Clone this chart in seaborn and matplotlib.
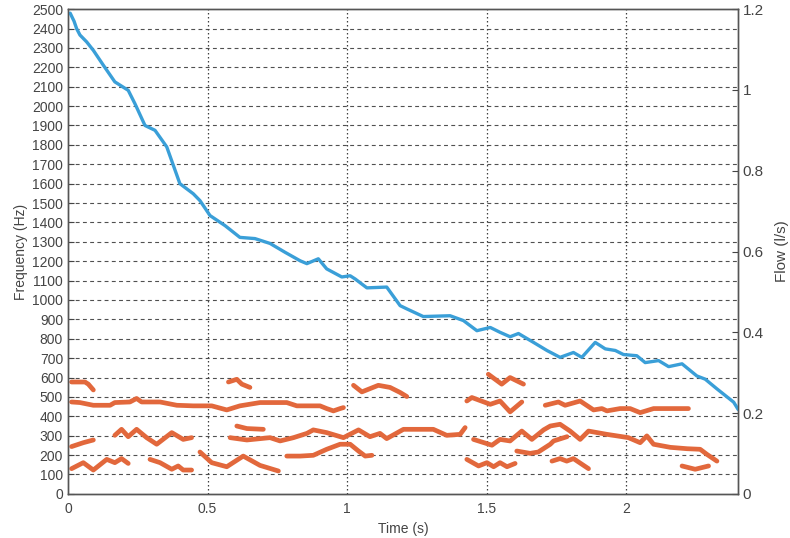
import seaborn as sns
import matplotlib.pyplot as plt
import pandas as pd

# ---- flow curve (right axis, l/s) ----
flow_time = [0.008, 0.022, 0.031, 0.043, 0.067, 0.091, 0.127, 0.168, 0.216, 0.240,
             0.276, 0.312, 0.354, 0.401, 0.449, 0.473, 0.509, 0.563, 0.616, 0.670,
             0.724, 0.778, 0.832, 0.856, 0.897, 0.927, 0.981, 1.011, 1.029, 1.071,
             1.142, 1.190, 1.214, 1.273, 1.369, 1.417, 1.465, 1.513, 1.548, 1.584,
             1.614, 1.668, 1.716, 1.763, 1.811, 1.841, 1.889, 1.925, 1.961, 1.990,
             2.038, 2.068, 2.116, 2.152, 2.200, 2.253, 2.283, 2.325, 2.385, 2.401]
flow_value = [1.190, 1.170, 1.152, 1.136, 1.119, 1.098, 1.061, 1.020, 0.999, 0.966,
              0.912, 0.900, 0.859, 0.768, 0.743, 0.726, 0.689, 0.664, 0.635, 0.632,
              0.620, 0.598, 0.577, 0.570, 0.582, 0.557, 0.537, 0.540, 0.532, 0.510,
              0.512, 0.466, 0.458, 0.439, 0.441, 0.429, 0.404, 0.412, 0.400, 0.389,
              0.397, 0.375, 0.355, 0.338, 0.350, 0.338, 0.375, 0.359, 0.355, 0.345,
              0.342, 0.325, 0.330, 0.315, 0.322, 0.292, 0.284, 0.260, 0.227, 0.209]

# ---- formant tracks (left axis, Hz): (time list, frequency list) ----
formant_tracks = {
    "A": ([0.013, 0.061, 0.073, 0.091], [577, 577, 566, 536]),
    "B": ([0.013, 0.043, 0.091, 0.151, 0.168, 0.222, 0.246, 0.264, 0.330, 0.390,
           0.449, 0.515, 0.569, 0.616, 0.688, 0.784, 0.820, 0.867, 0.903, 0.927,
           0.951, 0.975, 0.987],
          [474, 471, 457, 457, 471, 474, 492, 474, 474, 457, 454, 454, 433, 454,
           471, 471, 454, 454, 454, 440, 428, 440, 445]),
    "C": ([0.013, 0.055, 0.091], [244, 264, 278]),
    "D": ([0.168, 0.192, 0.216, 0.246, 0.282, 0.318, 0.372, 0.413, 0.443],
          [302, 333, 295, 333, 290, 256, 316, 281, 290]),
    "E": ([0.013, 0.055, 0.091, 0.139, 0.168, 0.192, 0.216],
          [130, 161, 123, 178, 161, 182, 157]),
    "F": ([0.294, 0.330, 0.372, 0.395, 0.413, 0.443], [178, 161, 127, 144, 123, 123]),
    "G": ([0.473, 0.515, 0.569, 0.628, 0.688, 0.754], [216, 161, 140, 195, 147, 118]),
    "H": ([0.575, 0.605, 0.623, 0.652], [577, 591, 566, 549]),
    "I": ([0.605, 0.641, 0.700], [350, 337, 333]),
    "J": ([0.581, 0.641, 0.724, 0.760, 0.808, 0.856, 0.879, 0.927, 0.987, 1.041,
           1.082, 1.118, 1.142, 1.202, 1.309, 1.357, 1.405, 1.423],
          [290, 278, 290, 273, 290, 312, 330, 316, 290, 330, 295, 312, 285, 333,
           333, 302, 307, 342]),
    "K": ([0.784, 0.832, 0.879, 0.927, 0.975, 1.011, 1.041, 1.065, 1.089],
          [195, 195, 199, 230, 256, 256, 221, 195, 199]),
    "L": ([1.023, 1.053, 1.112, 1.154, 1.190, 1.214], [560, 526, 560, 549, 523, 502]),
    "M": ([1.429, 1.447, 1.513, 1.548, 1.584, 1.626], [479, 497, 462, 479, 423, 474]),
    "N": ([1.506, 1.554, 1.584, 1.632], [617, 566, 600, 566]),
    "O": ([1.453, 1.519, 1.548, 1.584, 1.626, 1.662, 1.704, 1.728, 1.763, 1.799,
           1.835, 1.865, 1.931, 2.008, 2.050, 2.074, 2.098, 2.158, 2.218, 2.265,
           2.289, 2.325],
          [281, 251, 281, 273, 324, 281, 330, 350, 359, 324, 281, 324, 307, 290,
           264, 299, 256, 240, 233, 230, 204, 169]),
    "P": ([1.608, 1.656, 1.685, 1.728, 1.740, 1.788], [221, 209, 216, 256, 273, 295]),
    "Q": ([1.429, 1.471, 1.501, 1.525, 1.548, 1.573, 1.602],
          [178, 144, 161, 140, 161, 140, 157]),
    "R": ([1.710, 1.757, 1.781, 1.835, 1.883, 1.913, 1.931, 1.978, 2.014, 2.050,
           2.098, 2.223],
          [457, 474, 457, 479, 433, 440, 428, 440, 440, 419, 440, 440]),
    "S": ([1.734, 1.763, 1.787, 1.811, 1.865], [169, 182, 169, 182, 130]),
    "T": ([2.200, 2.247, 2.295], [144, 127, 144]),
}

freq_ticks = list(range(0, 2600, 100))
flow_ticks = [0, 0.2, 0.4, 0.6, 0.8, 1.0, 1.2]
time_ticks = [0, 0.5, 1, 1.5, 2]
time_labels = ["0", "0.5", "1", "1.5", "2"]
flow_labels = ["0", "0.2", "0.4", "0.6", "0.8", "1", "1.2"]

rows = []
for name, (ts, fs) in formant_tracks.items():
    for t, f in zip(ts, fs):
        rows.append({"track": name, "time": t, "freq": f})
formants = pd.DataFrame(rows)
flow = pd.DataFrame({"time": flow_time, "flow": flow_value})

sns.set_style("white")
plt.rcParams["font.family"] = ["Liberation Sans Narrow", "Liberation Sans", "DejaVu Sans"]

txt = "#444444"
fig = plt.figure(figsize=(7.9, 5.38), dpi=100)
ax = fig.add_axes([0.086, 0.082, 0.848, 0.901])

# grid
for f in freq_ticks[1:-1]:
    ax.axhline(f, color="#505050", lw=0.8, ls=(0, (3.5, 3)), zorder=0)
for t in time_ticks[1:]:
    ax.axvline(t, color="#404040", lw=0.9, ls=(0, (1.2, 2)), zorder=0)

sns.lineplot(data=formants, x="time", y="freq", units="track", estimator=None,
             color="#e2683c", lw=3.4, sort=False, ax=ax, legend=False)
ax.set_xlim(0, 2.4)
ax.set_ylim(0, 2500)
ax.set_yticks(freq_ticks)
ax.set_xticks(time_ticks)
ax.set_xticklabels(time_labels)
ax.set_xlabel("Time (s)", fontsize=10, color=txt, labelpad=4)
ax.set_ylabel("Frequency (Hz)", fontsize=10, color=txt, labelpad=3)
ax.tick_params(direction="in", labelsize=10, colors=txt, length=4)
ax.tick_params(axis="x", pad=6)

ax2 = ax.twinx()
sns.lineplot(data=flow, x="time", y="flow", color="#3a9fd8", lw=2.4, ax=ax2)
ax2.set_ylim(0, 1.2)
ax2.set_yticks(flow_ticks)
ax2.set_yticklabels(flow_labels)
ax2.set_ylabel("Flow (l/s)", fontsize=11, color=txt, labelpad=8)
ax2.tick_params(direction="in", labelsize=11, colors=txt, length=4)

for a in (ax, ax2):
    for s in a.spines.values():
        s.set_color("#555555")
        s.set_linewidth(1.0)

fig.savefig("out.png", dpi=100)
